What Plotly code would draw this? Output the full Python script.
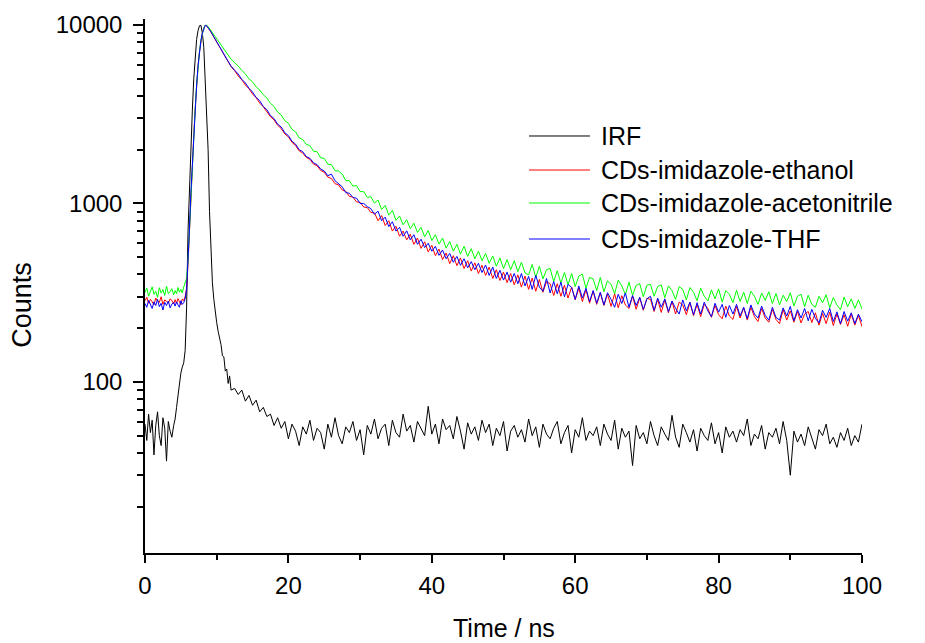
import numpy as np
import plotly.graph_objects as go

# ---------------- data ----------------
# time channels (ns): coarse baseline, fine around the pulse, 0.5 ns in the tail
time_ns = np.concatenate([
    np.arange(0, 4.01, 0.25),
    np.round(np.arange(4.2, 12.01, 0.2), 1),
    np.arange(12.5, 100.01, 0.5),
])

irf_counts = [
    58, 47, 66, 52, 61, 39, 57, 68, 50, 44, 63, 55, 36, 60, 53, 49, 57,
    62, 72, 86, 98, 112, 121, 128, 150,
    260, 700, 1300, 2100, 3300, 5000, 6800, 8300,
    9300, 9900, 9950, 9000, 7500, 5000, 3500, 2000,
    900, 500, 360, 290, 240, 215, 192, 175,
    162, 140, 138, 115, 118, 98, 108, 90,
    92, 85, 90, 78, 84, 74, 79, 68, 72, 64,
    66, 57, 63, 55, 60, 48, 58, 53, 44, 56,
    51, 61, 47, 55, 52, 42, 58, 49, 63, 50,
    45, 56, 52, 60, 47, 54, 39, 57, 51, 62,
    48, 55, 58, 44, 61, 52, 49, 66, 53, 57,
    46, 60, 55, 50, 73, 51, 58, 45, 62, 54,
    57, 48, 64, 53, 42, 59, 51, 56, 47, 61,
    52, 58, 44, 55, 50, 60, 41, 53, 57, 49,
    54, 46, 62, 50, 56, 43, 58, 51, 48, 55,
    60, 45, 52, 57, 40, 54, 49, 63, 47, 53,
    50, 56, 44, 58, 51, 47, 61, 42, 55, 49,
    53, 34, 57, 48, 52, 45, 60, 50, 44, 56,
    51, 47, 65, 49, 43, 58, 52, 46, 54, 41,
    55, 50, 47, 59, 45, 52, 40, 56, 49, 53,
    46, 54, 50, 62, 44, 51, 48, 57, 42, 52,
    49, 55, 45, 60, 47, 30, 53, 46, 51, 44,
    56, 48, 42, 54, 50, 58, 45, 49, 43, 52,
    47, 55, 44, 50, 46, 58,
]

ethanol_counts = [
    285, 298, 276, 290, 281, 270, 295, 284, 279, 300, 272, 288, 283, 277, 292, 286, 274,
    289, 276, 293, 282, 270, 291, 286, 300,
    335, 455, 725, 1150, 1700, 2400, 3400, 4600,
    5900, 7100, 8200, 9000, 9600, 9950, 9880, 9680,
    9380, 9120, 8830, 8520, 8270, 7980, 7760, 7490,
    7260, 7040, 6820, 6620, 6410, 6220, 6020, 5840,
    5540, 5180, 4930, 4610, 4390, 4100, 3910, 3650, 3480, 3250,
    3060, 2940, 2740, 2630, 2450, 2360, 2200, 2110, 1970, 1915,
    1810, 1765, 1660, 1625, 1530, 1495, 1405, 1380, 1290, 1270,
    1190, 1170, 1095, 1085, 1020, 1015, 955, 948, 890, 885,
    800, 855, 752, 800, 700, 745, 655, 700, 625, 672,
    590, 640, 560, 610, 535, 582, 510, 555, 485, 528,
    460, 510, 448, 495, 432, 478, 418, 465, 405, 450,
    395, 440, 380, 425, 370, 412, 360, 405, 350, 398,
    340, 392, 330, 382, 322, 375, 318, 365, 355, 305,
    355, 302, 348, 295, 340, 288, 335, 282, 328, 276,
    322, 272, 315, 268, 310, 265, 312, 260, 304, 270,
    258, 302, 255, 296, 252, 294, 290, 248, 290, 245,
    288, 244, 282, 240, 280, 270, 238, 278, 235, 272,
    232, 272, 258, 230, 268, 238, 226, 266, 234, 224,
    265, 228, 260, 222, 262, 232, 218, 258, 228, 216,
    255, 224, 212, 254, 222, 250, 216, 248, 214, 240,
    248, 215, 244, 208, 242, 212, 246, 207, 240, 210,
    238, 205, 240, 208, 236, 204,
]

acetonitrile_counts = [
    318, 335, 302, 326, 341, 310, 322, 298, 337, 315, 329, 305, 344, 312, 320, 333, 308,
    325, 312, 338, 318, 330, 315, 340, 355,
    380, 480, 740, 1160, 1700, 2400, 3400, 4600,
    5900, 7100, 8200, 9000, 9600, 9950, 9950, 9800,
    9550, 9350, 9100, 8850, 8620, 8380, 8170, 7950,
    7740, 7530, 7330, 7140, 6950, 6780, 6600, 6430,
    6140, 5890, 5560, 5320, 4990, 4800, 4500, 4320, 4060, 3900,
    3640, 3490, 3250, 3130, 2910, 2810, 2600, 2520, 2330, 2280,
    2140, 2110, 1960, 1950, 1800, 1790, 1660, 1650, 1525, 1520,
    1460, 1345, 1340, 1250, 1260, 1165, 1165, 1080, 1090, 1005,
    1045, 925, 975, 860, 915, 805, 850, 760, 810, 722,
    775, 688, 735, 650, 705, 620, 668, 592, 640, 562,
    612, 540, 590, 520, 575, 505, 558, 490, 540, 478,
    525, 462, 508, 445, 495, 432, 485, 425, 478, 415,
    468, 408, 398, 455, 385, 445, 378, 425, 432, 365,
    420, 358, 410, 350, 405, 342, 392, 402, 335, 385,
    378, 325, 385, 320, 368, 352, 312, 372, 345, 308,
    362, 305, 348, 355, 300, 348, 352, 302, 342, 350,
    296, 345, 325, 290, 342, 330, 288, 338, 318, 285,
    335, 302, 284, 328, 292, 332, 280, 325, 310, 278,
    326, 282, 318, 275, 322, 302, 272, 315, 286, 320,
    275, 313, 270, 306, 282, 316, 266, 302, 310, 264,
    306, 272, 262, 302, 278, 308, 260, 297, 270, 254,
    299, 264, 292, 258, 288, 256,
]

thf_counts = [
    275, 262, 286, 270, 258, 281, 268, 290, 264, 276, 253, 279, 268, 284, 260, 273, 279,
    266, 281, 270, 262, 285, 272, 278, 292,
    330, 450, 720, 1150, 1700, 2400, 3400, 4600,
    5900, 7100, 8200, 9000, 9600, 9950, 9900, 9700,
    9400, 9150, 8850, 8550, 8300, 8000, 7800, 7520,
    7300, 7080, 6850, 6660, 6450, 6260, 6050, 5880,
    5580, 5310, 4960, 4730, 4420, 4210, 3930, 3760, 3490, 3350,
    3110, 2990, 2780, 2680, 2490, 2400, 2230, 2150, 2000, 1950,
    1830, 1790, 1690, 1650, 1560, 1520, 1430, 1460, 1340, 1290,
    1240, 1150, 1140, 1080, 1070, 1000, 1000, 960, 935, 870,
    905, 800, 838, 742, 790, 700, 735, 655, 702, 625,
    668, 590, 630, 566, 598, 540, 575, 512, 548, 490,
    525, 468, 505, 450, 490, 436, 472, 425, 462, 410,
    452, 395, 440, 380, 422, 372, 412, 362, 405, 355,
    405, 345, 390, 330, 395, 340, 322, 380, 315, 365,
    312, 362, 300, 352, 338, 290, 345, 295, 335, 282,
    325, 276, 318, 270, 316, 290, 262, 310, 275, 315,
    262, 305, 268, 298, 255, 292, 302, 252, 295, 262,
    292, 248, 284, 258, 240, 288, 250, 280, 238, 278,
    240, 280, 250, 232, 276, 246, 272, 230, 268, 240,
    272, 234, 262, 226, 270, 240, 228, 266, 236, 222,
    262, 230, 222, 260, 234, 265, 220, 254, 228, 258,
    220, 255, 227, 214, 252, 230, 258, 218, 247, 212,
    248, 219, 244, 212, 240, 217,
]

series_names = ["IRF", "CDs-imidazole-ethanol", "CDs-imidazole-acetonitrile", "CDs-imidazole-THF"]
series_values = [irf_counts, ethanol_counts, acetonitrile_counts, thf_counts]
series_colors = ["#000000", "#ff0000", "#00ff00", "#0000ff"]

y_major = [100, 1000, 10000]
y_major_text = ["100", "1000", "10000"]
y_minor = [m * d for d in (10, 100, 1000) for m in range(2, 10)]
x_major = [0, 20, 40, 60, 80, 100]
x_minor = [10, 30, 50, 70, 90]

for v in series_values:
    assert len(v) == len(time_ns), (len(v), len(time_ns))

# ---------------- figure ----------------
FONT = "Liberation Sans, Arial, sans-serif"
fig = go.Figure()
for name, vals, col in zip(series_names, series_values, series_colors):
    fig.add_trace(go.Scatter(x=time_ns, y=vals, mode="lines", name=name,
                             line=dict(color=col, width=1), showlegend=False))

fig.update_layout(
    width=925, height=643,
    margin=dict(l=145, r=63, t=19, b=90),
    paper_bgcolor="white", plot_bgcolor="white",
    font=dict(family=FONT, size=24, color="black"),
)
fig.update_xaxes(
    range=[0, 100], showgrid=False, zeroline=False,
    showline=True, linecolor="black", linewidth=1.5,
    ticks="outside", ticklen=8, tickwidth=1.5, tickcolor="black",
    tickvals=x_major, ticktext=[str(v) for v in x_major],
    tickfont=dict(family=FONT, size=24), ticklabelstandoff=2,
    minor=dict(tickvals=x_minor, ticks="outside", ticklen=5, tickwidth=1.5, tickcolor="black"),
)
fig.update_yaxes(
    type="log", range=[np.log10(11), np.log10(10800)], showgrid=False, zeroline=False,
    showline=True, linecolor="black", linewidth=1.5,
    ticks="outside", ticklen=10, tickwidth=1.5, tickcolor="black",
    tickvals=y_major, ticktext=y_major_text,
    tickfont=dict(family=FONT, size=24), ticklabelstandoff=6,
    minor=dict(tickvals=y_minor, ticks="outside", ticklen=6, tickwidth=1.5, tickcolor="black"),
)

# axis titles
fig.add_annotation(text="Counts", xref="paper", yref="paper", x=-0.172, y=0.4644,
                   textangle=-90, showarrow=False, font=dict(family=FONT, size=27),
                   xanchor="center", yanchor="middle")
fig.add_annotation(text="Time / ns", xref="paper", yref="paper", x=0.5, y=-0.1404,
                   showarrow=False, font=dict(family=FONT, size=25),
                   xanchor="center", yanchor="middle")

# legend drawn as line samples + labels
legend_y = [0.7809, 0.7172, 0.6554, 0.5880]
for name, col, ly in zip(series_names, series_colors, legend_y):
    fig.add_shape(type="line", xref="paper", yref="paper", x0=0.5356, x1=0.6206,
                  y0=ly, y1=ly, line=dict(color=col, width=1))
    fig.add_annotation(text=name, xref="paper", yref="paper", x=0.633, y=ly,
                       showarrow=False, xanchor="left", yanchor="middle",
                       font=dict(family=FONT, size=25))

fig.write_html("out.html")
